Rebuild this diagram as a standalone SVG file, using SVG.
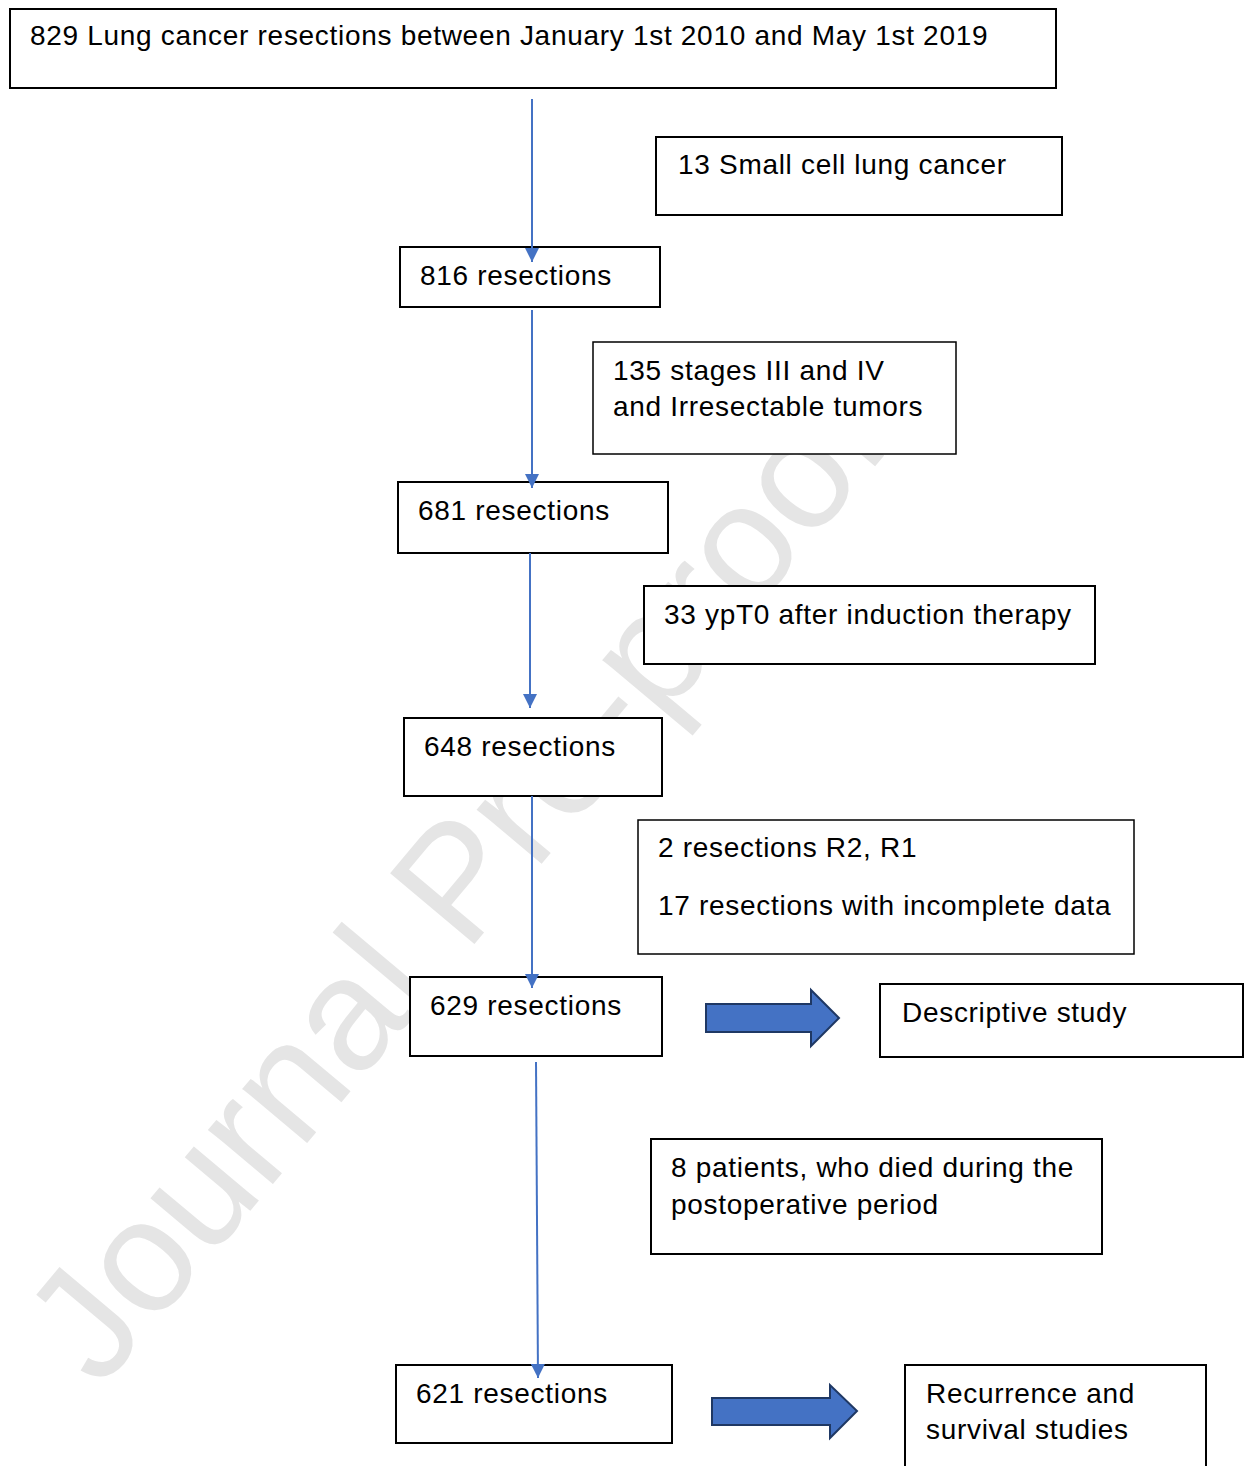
<svg xmlns="http://www.w3.org/2000/svg" width="1246" height="1466" viewBox="0 0 1246 1466">
<style>
  .box { fill: #ffffff; stroke: #000000; stroke-width: 2; }
  .thin { stroke-width: 1.5; }
  .t { font-family: "Liberation Sans", Arial, sans-serif; font-size: 28px; letter-spacing: 0.7px; fill: #000000; }
  .conn { stroke: #4472C4; stroke-width: 2; fill: none; }
  .block { fill: #4472C4; stroke: #1F3864; stroke-width: 2; stroke-linejoin: miter; }
  .wm { font-family: "Liberation Sans", Arial, sans-serif; font-size: 160px; fill: #e5e5e5; }
</style>
<defs>
  <marker id="ah" viewBox="0 0 14 14" refX="14" refY="7" markerWidth="14" markerHeight="14" markerUnits="userSpaceOnUse" orient="auto">
    <path d="M0,0 L14,7 L0,14 z" fill="#4472C4"/>
  </marker>
</defs>
<rect width="1246" height="1466" fill="#ffffff"/>
<text class="wm" transform="translate(100,1390) rotate(-50)">Journal Pre-proof</text>

<g id="n829"><rect class="box" x="10" y="9" width="1046" height="79"/><text class="t" x="30" y="45">829 Lung cancer resections between January 1st 2010 and May 1st 2019</text></g>
<g id="n13"><rect class="box" x="656" y="137" width="406" height="78"/><text class="t" x="678" y="174">13 Small cell lung cancer</text></g>
<g id="n816"><rect class="box" x="400" y="247" width="260" height="60"/><text class="t" x="420" y="285">816 resections</text></g>
<g id="n135"><rect class="box thin" x="593" y="342" width="363" height="112"/><text class="t" x="613" y="380">135 stages III and IV</text><text class="t" x="613" y="416">and Irresectable tumors</text></g>
<g id="n681"><rect class="box" x="398" y="482" width="270" height="71"/><text class="t" x="418" y="520">681 resections</text></g>
<g id="n33"><rect class="box" x="644" y="586" width="451" height="78"/><text class="t" x="664" y="624">33 ypT0 after induction therapy</text></g>
<g id="n648"><rect class="box" x="404" y="718" width="258" height="78"/><text class="t" x="424" y="756">648 resections</text></g>
<g id="n2r"><rect class="box thin" x="638" y="820" width="496" height="134"/><text class="t" x="658" y="857">2 resections R2, R1</text><text class="t" x="658" y="915">17 resections with incomplete data</text></g>
<g id="n629"><rect class="box" x="410" y="977" width="252" height="79"/><text class="t" x="430" y="1015">629 resections</text></g>
<g id="ndesc"><rect class="box" x="880" y="984" width="363" height="73"/><text class="t" x="902" y="1022">Descriptive study</text></g>
<g id="n8"><rect class="box" x="651" y="1139" width="451" height="115"/><text class="t" x="671" y="1177">8 patients, who died during the</text><text class="t" x="671" y="1214">postoperative period</text></g>
<g id="n621"><rect class="box" x="396" y="1365" width="276" height="78"/><text class="t" x="416" y="1403">621 resections</text></g>
<g id="nrec"><rect class="box" x="905" y="1365" width="301" height="110"/><text class="t" x="926" y="1403">Recurrence and</text><text class="t" x="926" y="1439">survival studies</text></g>

<g id="connectors">
  <line class="conn" x1="532" y1="99" x2="532" y2="262" marker-end="url(#ah)"/>
  <line class="conn" x1="532" y1="310" x2="532" y2="488" marker-end="url(#ah)"/>
  <line class="conn" x1="530" y1="553" x2="530" y2="708" marker-end="url(#ah)"/>
  <line class="conn" x1="532" y1="796" x2="532" y2="988" marker-end="url(#ah)"/>
  <line class="conn" x1="536" y1="1062" x2="538" y2="1378" marker-end="url(#ah)"/>
  <path class="block" d="M706,1004 L811,1004 L811,990 L839,1018 L811,1046 L811,1032 L706,1032 z"/>
  <path class="block" d="M712,1398 L830,1398 L830,1385 L857,1411 L830,1438 L830,1425 L712,1425 z"/>
</g>
</svg>
